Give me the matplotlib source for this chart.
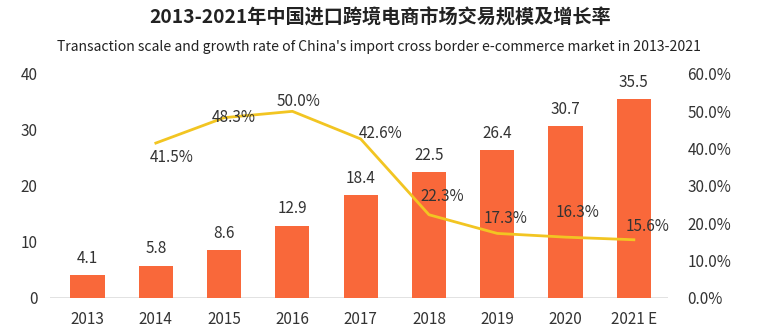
import matplotlib.pyplot as plt

plt.rcParams['font.family'] = ['Noto Sans CJK SC', 'DejaVu Sans']

# 数据
years = ["2013", "2014", "2015", "2016", "2017", "2018", "2019", "2020", "2021 E"]
scale = [4.1, 5.8, 8.6, 12.9, 18.4, 22.5, 26.4, 30.7, 35.5]
growth_idx = [1, 2, 3, 4, 5, 6, 7, 8]
growth = [41.5, 48.3, 50.0, 42.6, 22.3, 17.3, 16.3, 15.6]
growth_labels = ["41.5%", "48.3%", "50.0%", "42.6%", "22.3%", "17.3%", "16.3%", "15.6%"]
# label offsets in pixels (dx, dy)
label_offsets = [(16, -14), (10, 0), (6, 10), (20, 5), (13, 18), (8, 15), (12, 25), (14, 13)]

fig = plt.figure(figsize=(7.67, 3.26), dpi=100)
ax = fig.add_axes([50 / 767, 28 / 326, 618 / 767, 224 / 326])

x = list(range(len(years)))
bars = ax.bar(x, scale, width=0.5, color='#F9683A', zorder=2)
ax.bar_label(bars, labels=[f"{v:.1f}" for v in scale], padding=6, fontsize=11, color='#333333')

ax.set_ylim(0, 40)
ax.set_xlim(-0.55, 8.5)
ax.set_yticks([0, 10, 20, 30, 40])
ax.set_xticks(x)
ax.set_xticklabels(years)
ax.tick_params(axis='both', length=0, labelsize=11, colors='#333333')
ax.tick_params(axis='y', pad=9)
ax.tick_params(axis='x', pad=9)
for s in ax.spines.values():
    s.set_visible(False)
ax.axhline(0, color='#DDDDDD', linewidth=1.2, zorder=1)

ax2 = ax.twinx()
ax2.plot(growth_idx, growth, color='#F2C522', linewidth=2, zorder=3, solid_joinstyle='round')
ax2.set_ylim(0, 60)
ax2.set_yticks([0, 10, 20, 30, 40, 50, 60])
ax2.set_yticklabels([f"{v:.1f}%" for v in [0, 10, 20, 30, 40, 50, 60]])
ax2.tick_params(axis='y', length=0, labelsize=11, colors='#333333', pad=14)
for s in ax2.spines.values():
    s.set_visible(False)

for i, v, t, off in zip(growth_idx, growth, growth_labels, label_offsets):
    ax2.annotate(t, (i, v), xytext=off, textcoords='offset pixels',
                 ha='center', va='center', fontsize=11, color='#333333')

fig.text(380 / 767, 1 - 18 / 326, "2013-2021年中国进口跨境电商市场交易规模及增长率",
         ha='center', va='center', fontsize=13.8, fontweight='bold', color='#222222')
fig.text(379 / 767, 1 - 47 / 326,
         "Transaction scale and growth rate of China's import cross border e-commerce market in 2013-2021",
         ha='center', va='center', fontsize=10.1, color='#222222')

fig.savefig("out.png", dpi=100)
